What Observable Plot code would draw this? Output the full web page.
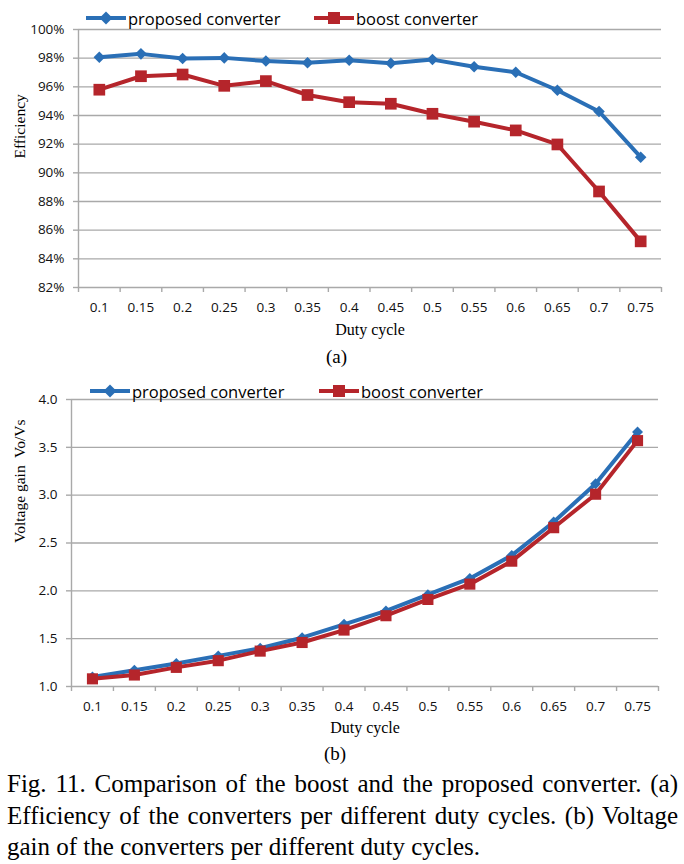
<!DOCTYPE html>
<html>
<head>
<meta charset="utf-8">
<script src="https://cdn.jsdelivr.net/npm/d3@7"></script>
<script src="https://cdn.jsdelivr.net/npm/@observablehq/plot@0.6"></script>
<style>
  html, body { margin: 0; padding: 0; background: #fff; }
  #page { position: relative; width: 684px; height: 864px; overflow: hidden; background: #fff; }
  .legend { position: absolute; display: flex; align-items: center; height: 20px; font-family: "Open Sans", sans-serif; font-size: 16.5px; color: #000; white-space: nowrap; }
  .legend svg { display: block; }
  .legend span { margin-left: 2px; }
  .sub { position: absolute; font-family: "Liberation Serif", serif; font-size: 19px; line-height: 19px; color: #000; }
  .cap { position: absolute; left: 7px; width: 671px; font-family: "Liberation Serif", serif; font-size: 25px; line-height: 32px; color: #000; white-space: nowrap; }
  .just { text-align: justify; text-align-last: justify; white-space: normal; }
</style>
</head>
<body>
<div id="page"></div>
<script>
// ---------- data ----------
const categories = [0.1, 0.15, 0.2, 0.25, 0.3, 0.35, 0.4, 0.45, 0.5, 0.55, 0.6, 0.65, 0.7, 0.75];
const seriesNames = ["proposed converter", "boost converter"];
const effProposed = [98.07, 98.3, 97.98, 98.02, 97.8, 97.68, 97.86, 97.65, 97.9, 97.4, 97.02, 95.76, 94.28, 91.09];
const effBoost    = [95.8, 96.74, 96.86, 96.07, 96.4, 95.43, 94.93, 94.82, 94.12, 93.57, 92.96, 91.98, 88.7, 85.22];
const gainProposed = [1.10, 1.17, 1.24, 1.32, 1.40, 1.51, 1.65, 1.79, 1.96, 2.13, 2.37, 2.72, 3.12, 3.66];
const gainBoost    = [1.08, 1.12, 1.20, 1.27, 1.37, 1.46, 1.59, 1.74, 1.91, 2.07, 2.31, 2.66, 3.01, 3.57];
const effTicks  = [82, 84, 86, 88, 90, 92, 94, 96, 98, 100];
const gainTicks = [1.0, 1.5, 2.0, 2.5, 3.0, 3.5, 4.0];
const xTickLabels = ["0.1", "0.15", "0.2", "0.25", "0.3", "0.35", "0.4", "0.45", "0.5", "0.55", "0.6", "0.65", "0.7", "0.75"];

// ---------- styling ----------
const BLUE = "#2a6fb6";
const RED = "#b5252b";
const GRID = "#a9a9a9";

const half = (categories[1] - categories[0]) / 2;
const xDomain = [categories[0] - half, categories[categories.length - 1] + half];
const boundaries = [...categories.map(c => +(c - half).toFixed(4)), +(categories[categories.length - 1] + half).toFixed(4)];
const labelOf = d => xTickLabels[categories.findIndex(c => Math.abs(c - d) < 1e-9)];

function rows(values) { return categories.map((c, i) => ({duty: c, value: values[i]})); }

function makeChart({top, height, marginTop, marginBottom, marginLeft, marginRight, yDomain, yTicks, yFormat, propVals, boostVals, yTitle, titleDx, titleDy, dotScale}) {
  const prop = rows(propVals), boost = rows(boostVals);
  const chart = Plot.plot({
    width: 684, height, marginTop, marginBottom, marginLeft, marginRight,
    style: {fontFamily: "'Open Sans', sans-serif", fontSize: "13.5px", background: "transparent", color: "#111"},
    x: {type: "linear", domain: xDomain},
    y: {type: "linear", domain: yDomain},
    marks: [
      Plot.gridY(yTicks, {stroke: GRID, strokeOpacity: 1, strokeWidth: 1.4}),
      Plot.ruleX([xDomain[0]], {stroke: GRID, strokeWidth: 1.4}),
      Plot.axisY(yTicks, {tickSize: 5, tickPadding: 9, tickFormat: yFormat, stroke: GRID, strokeWidth: 1.4, fill: "#111", fontSize: 13.5, label: null}),
      Plot.axisX(boundaries, {tickSize: 5, tickFormat: () => "", stroke: GRID, strokeWidth: 1.4, label: null}),
      Plot.axisX(categories, {tickSize: 0, tickPadding: 15, tickFormat: labelOf, fill: "#111", fontSize: 13.5, label: null}),
      Plot.line(prop, {x: "duty", y: "value", stroke: BLUE, strokeWidth: 4, strokeLinejoin: "round"}),
      Plot.dot(prop, {x: "duty", y: "value", symbol: "diamond2", r: 5.2 * dotScale, fill: BLUE, stroke: "none"}),
      Plot.line(boost, {x: "duty", y: "value", stroke: RED, strokeWidth: 4, strokeLinejoin: "round"}),
      Plot.dot(boost, {x: "duty", y: "value", symbol: "square", r: 6.6 * dotScale, fill: RED, stroke: "none"}),
      Plot.text([yTitle], {text: d => d, frameAnchor: "left", dx: titleDx, rotate: -90, fontFamily: "'Liberation Serif', serif", fontSize: 15.5, fill: "#000"}),
      Plot.text(["Duty cycle"], {text: d => d, frameAnchor: "bottom", dy: titleDy, fontFamily: "'Liberation Serif', serif", fontSize: 16, fill: "#000"})
    ]
  });
  chart.style.position = "absolute";
  chart.style.left = "0px";
  chart.style.top = top + "px";
  return chart;
}

const page = document.getElementById("page");

// Chart (a)
page.appendChild(makeChart({
  top: 0, height: 340, marginTop: 29, marginBottom: 53, marginLeft: 78, marginRight: 23,
  yDomain: [82, 100], yTicks: effTicks, yFormat: d => d + "%",
  propVals: effProposed, boostVals: effBoost, yTitle: "Efficiency", titleDx: -58, titleDy: 47, dotScale: 1
}));

// Chart (b)
page.appendChild(makeChart({
  top: 370, height: 370, marginTop: 29, marginBottom: 54, marginLeft: 71, marginRight: 26,
  yDomain: [1, 4], yTicks: gainTicks, yFormat: d => d.toFixed(1),
  propVals: gainProposed, boostVals: gainBoost, yTitle: "Voltage gain  Vo/Vs", titleDx: -51, titleDy: 46, dotScale: 0.95
}));

// Legends
function legendItem(left, top, name, color, symbol) {
  const div = document.createElement("div");
  div.className = "legend";
  div.style.left = left + "px";
  div.style.top = top + "px";
  const sym = symbol === "diamond"
    ? `<path d="M20 3.5 L26.5 10 L20 16.5 L13.5 10 Z" fill="${color}"/>`
    : `<rect x="14" y="4" width="12" height="12" fill="${color}"/>`;
  div.innerHTML = `<svg width="40" height="20"><line x1="0" y1="10" x2="40" y2="10" stroke="${color}" stroke-width="4"/>${sym}</svg><span>${name}</span>`;
  page.appendChild(div);
}
legendItem(86, 8, seriesNames[0], BLUE, "diamond");
legendItem(314, 8, seriesNames[1], RED, "square");
legendItem(90, 381, seriesNames[0], BLUE, "diamond");
legendItem(319, 381, seriesNames[1], RED, "square");

// Sub-labels
function sub(text, left, top) {
  const d = document.createElement("div");
  d.className = "sub"; d.textContent = text;
  d.style.left = left + "px"; d.style.top = top + "px";
  page.appendChild(d);
}
sub("(a)", 326, 347);
sub("(b)", 324, 744);

// Caption
const captionLines = [
  "Fig. 11. Comparison of the boost and the proposed converter. (a)",
  "Efficiency of the converters per different duty cycles. (b) Voltage",
  "gain of the converters per different duty cycles."
];
captionLines.forEach((t, i) => {
  const d = document.createElement("div");
  d.className = "cap" + (i < 2 ? " just" : "");
  d.textContent = t;
  d.style.top = (768 + i * 31.7) + "px";
  page.appendChild(d);
});
</script>
</body>
</html>
